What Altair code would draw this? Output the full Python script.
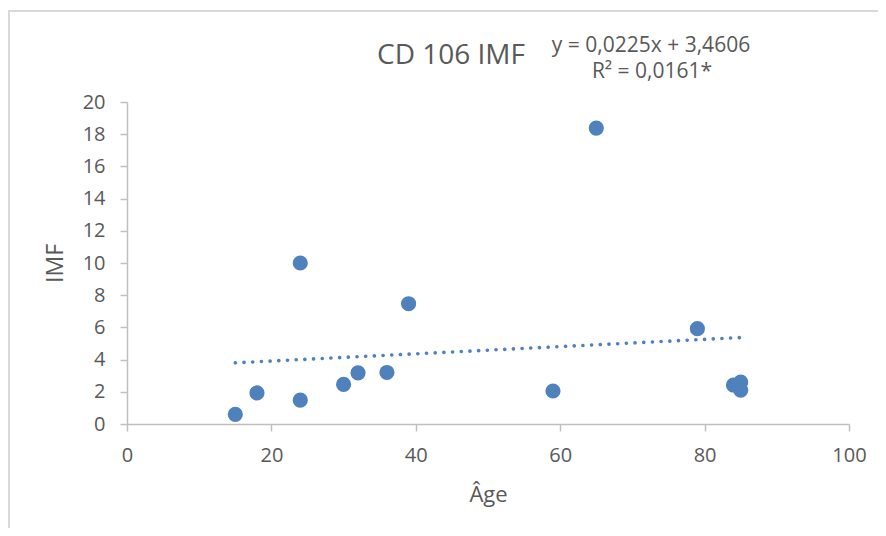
import altair as alt
import pandas as pd

# ---- data ----
age = [15, 18, 24, 24, 30, 32, 36, 39, 59, 65, 79, 84, 85, 85]
imf = [0.6, 1.93, 10.0, 1.48, 2.46, 3.18, 3.2, 7.47, 2.05, 18.38, 5.92, 2.42, 2.6, 2.1]
trend_age = [15, 85]
trend_imf = [3.80, 5.37]
x_ticks = [0, 20, 40, 60, 80, 100]
y_ticks = [0, 2, 4, 6, 8, 10, 12, 14, 16, 18, 20]
title_text = "CD 106 IMF"
eq_line1 = "y = 0,0225x + 3,4606"
eq_line2 = "R² = 0,0161*"

FONT = "Open Sans"
GREY = "#595959"
BLUE = "#4F81BD"

pts = pd.DataFrame({"Âge": age, "IMF": imf})
trend = pd.DataFrame({"Âge": trend_age, "IMF": trend_imf})
one = pd.DataFrame({"k": [0]})

xs = alt.Scale(domain=[0, 100], nice=False)
ys = alt.Scale(domain=[0, 20], nice=False)

x_axis = alt.Axis(values=x_ticks, title="Âge", labelPadding=14, titlePadding=19,
                  titleFontSize=22, labelOverlap=False, labelFlush=False)
y_axis = alt.Axis(values=y_ticks, title="IMF", labelPadding=15, titlePadding=15,
                  titleFontSize=23, labelOverlap=False, labelFlush=False)

points = alt.Chart(pts).mark_circle(size=230, color=BLUE, opacity=1).encode(
    x=alt.X("Âge:Q", scale=xs, axis=x_axis),
    y=alt.Y("IMF:Q", scale=ys, axis=y_axis),
)

line = alt.Chart(trend).mark_line(
    color=BLUE, strokeWidth=3.6, strokeCap="round", strokeDash=[0.1, 8.6]
).encode(
    x=alt.X("Âge:Q", scale=xs, axis=x_axis),
    y=alt.Y("IMF:Q", scale=ys, axis=y_axis),
)

border = alt.Chart(one).mark_rect(
    fillOpacity=0, stroke="#D9D9D9", strokeWidth=2
).encode(
    x=alt.value(-118), y=alt.value(-91), x2=alt.value(900), y2=alt.value(600)
)

title = alt.Chart(one).mark_text(
    text=title_text, font=FONT, fontSize=28, color=GREY, align="center",
    baseline="alphabetic"
).encode(x=alt.value(324), y=alt.value(-38))

eq1 = alt.Chart(one).mark_text(
    text=eq_line1, font=FONT, fontSize=21, color=GREY, align="center",
    baseline="alphabetic"
).encode(x=alt.value(524), y=alt.value(-50))

eq2 = alt.Chart(one).mark_text(
    text=eq_line2, font=FONT, fontSize=21, color=GREY, align="center",
    baseline="alphabetic"
).encode(x=alt.value(525), y=alt.value(-24))

chart = alt.layer(border, points, line, title, eq1, eq2).properties(
    width=722, height=322,
    autosize=alt.AutoSizeParams(type="none"),
    padding={"left": 119, "top": 94, "right": 29, "bottom": 104},
).configure_view(stroke=None).configure_axis(
    grid=False,
    domainColor="#BFBFBF", domainWidth=1.5,
    tickColor="#BFBFBF", tickWidth=1.5, tickSize=7,
    labelColor=GREY, labelFont=FONT, labelFontSize=20,
    titleColor=GREY, titleFont=FONT, titleFontWeight="normal",
)

chart.save("out.html", embed_options={"renderer": "svg", "actions": False})
